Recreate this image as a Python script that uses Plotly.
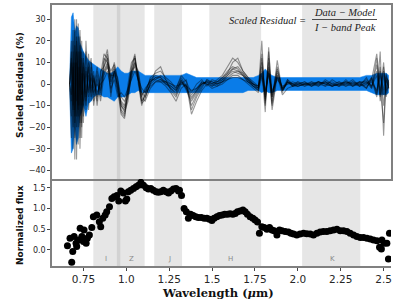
import plotly.graph_objects as go
from plotly.subplots import make_subplots

# ---------------- data ----------------
res_wl = [0.670, 0.680, 0.690, 0.700, 0.710, 0.720, 0.730, 0.740, 0.750, 0.765,
          0.780, 0.795, 0.810, 0.830, 0.850, 0.870, 0.890, 0.910, 0.930, 0.950,
          0.970, 0.990, 1.010, 1.030, 1.050, 1.070, 1.090, 1.110, 1.140, 1.170,
          1.200, 1.230, 1.260, 1.290, 1.320, 1.350, 1.380, 1.410, 1.440, 1.470,
          1.500, 1.530, 1.560, 1.590, 1.620, 1.650, 1.680, 1.710, 1.740, 1.770,
          1.790, 1.810, 1.830, 1.850, 1.880, 1.910, 1.940, 1.970, 2.000, 2.040,
          2.080, 2.120, 2.160, 2.200, 2.240, 2.280, 2.320, 2.360, 2.400, 2.430,
          2.460, 2.480, 2.500, 2.515, 2.530]

blue_upper = [2, 31, 33, 24, 27, 26, 19, 17, 15, 13,
              11, 10, 9, 8, 7, 6, 5, 5, 6, 8,
              6, 5, 5, 6, 6, 6, 5, 4, 4, 4,
              4, 4, 4, 4, 4, 5, 4, 3, 3, 3,
              3, 3, 3, 3, 3, 3, 3, 3, 3, 4,
              5, 7, 5, 4, 3, 3, 3, 3, 3, 3,
              3, 3, 3, 3, 3, 3, 3, 3, 4, 4,
              5, 5, 5, 5, 4]
blue_lower = [-2, -32, -30, -20, -28, -25, -15, -13, -10, -15,
              -9, -8, -6, -5, -5, -6, -6, -7, -8, -6,
              -6, -6, -5, -4, -4, -3, -4, -4, -4, -4,
              -4, -4, -4, -4, -4, -4, -4, -4, -4, -4,
              -4, -4, -4, -4, -4, -4, -4, -3, -3, -3,
              -4, -3, -4, -4, -3, -3, -3, -3, -3, -3,
              -3, -3, -3, -3, -3, -3, -3, -3, -3, -4,
              -5, -5, -5, -5, -4]

res_a = [0, 10, -30, 25, -20, 28, -25, 12, -10, 15,
         -12, 8, -8, 4, -6, 10, 16, 2, 8, -2,
         -14, -16, -4, 8, 14, 0, -10, -4, 2, 4,
         3, 1, -2, -4, 2, -3, -8, -4, 0, 1,
         0, 1, 3, 6, 8, 7, 4, 2, 0, -2,
         20, -10, 15, -6, 8, -3, 1, -1, 0, 1,
         -1, 1, 0, 1, -1, 0, 2, -1, 3, -2,
         12, -8, 4, -3, -1]
res_b = [0, -15, 20, -35, 15, -28, 22, -18, 8, -12,
         14, -6, 6, -10, 4, 14, 12, -6, 6, 3,
         -12, -14, 0, 10, 12, 2, -8, -6, 0, 6,
         8, 2, -3, -6, 0, 2, -12, -6, -2, 2,
         1, 0, 2, 5, 10, 12, 6, 3, 0, -1,
         6, -13, 17, -8, 11, -4, 2, 0, -1, 0,
         1, 0, -1, 2, 0, -1, 1, 0, -2, 2,
         -6, 15, -24, 4, 0]
res_c = [0, 5, 25, -18, 30, -15, 8, -20, 12, -8,
         6, 12, -5, 6, -4, 8, 14, 0, 6, 0,
         -10, -12, -6, 4, 10, 4, -6, -2, 1, 3,
         2, 0, -1, -3, 1, -2, -6, -3, 1, 0,
         -1, 0, 1, 4, 6, 5, 4, 1, -1, -3,
         14, -9, 10, -5, 6, -2, 0, 1, 0, -1,
         0, 1, -1, 0, 1, -1, 0, 1, 0, 3,
         -4, 8, -10, 2, -2]
res_d = [0, -8, 15, -12, 10, -20, 15, -10, 5, -6,
         4, -4, 4, -6, 2, 6, 10, 4, 4, -4,
         -8, -10, -2, 6, 8, 2, -6, -8, -2, 1,
         1, -1, -4, -8, -2, 0, -14, -8, -3, 0,
         -2, -1, 0, 2, 4, 4, 2, 0, -2, -4,
         10, -6, 8, -12, 4, -5, -2, -1, -1, 0,
         -1, 0, 1, -1, 0, 1, -1, 0, 2, -1,
         6, -3, 6, -2, 2]
res_e = [0, 20, -10, 30, -35, 15, -10, 20, -15, 8,
         -6, 5, -10, 2, -8, 4, 8, 3, 10, 2,
         -6, -8, -4, 6, 10, 6, -4, -6, 0, 2,
         4, 2, 0, -2, 3, -1, -5, -2, 1, 0,
         0, 2, 4, 8, 12, 10, 6, 3, 1, -1,
         8, -4, 6, -10, 5, -2, 1, 0, 1, 0,
         0, -1, 1, 0, -1, 1, 0, -1, 1, -2,
         9, -5, 10, -6, 0]
res_f = [0, -25, 10, -15, 20, -10, 25, -5, 10, -10,
         8, -2, 2, -4, 0, 2, 6, -2, 2, -6,
         -4, -6, -2, 2, 6, 2, -2, -4, -1, 1,
         2, 1, 0, -1, 0, -1, -3, -2, 0, 1,
         1, 0, 1, 2, 3, 3, 2, 1, 0, -1,
         4, -3, 4, -3, 2, -1, 0, 0, 0, 0,
         0, 1, 0, -1, 0, 1, 0, 0, -1, 1,
         -3, 4, -5, 3, 1]
res_g = [0, 12, -20, 18, -8, 22, -30, 5, -18, 20,
         -4, 10, -2, 8, -2, 12, 10, 6, 9, 1,
         -10, -13, -8, 5, 12, 3, -8, -5, 3, 5,
         6, 3, 1, -2, 4, 1, -4, 0, 2, -1,
         2, 1, 3, 5, 7, 6, 5, 2, -1, -3,
         3, -5, 5, -4, 3, -2, 2, -1, 1, -1,
         1, -1, 2, 0, -1, 2, -1, 1, -2, 3,
         -5, 6, -3, 5, -2]
res_h = [0, -5, 8, -25, 22, -12, 18, -25, 15, -4,
         10, -8, 3, -8, 6, 8, 12, -4, 7, -2,
         -13, -15, -3, 7, 13, 1, -9, -7, 1, 3,
         3, 0, -2, -5, 1, -1, -10, -5, -1, 2,
         0, -1, 1, 3, 5, 6, 4, 1, -1, -2,
         5, -8, 7, -6, 4, -3, 1, -1, 0, 1,
         -1, 1, 0, -1, 1, 0, -1, 1, 1, -1,
         4, -6, 8, -4, 1]
res_i = [0, 15, -12, 10, -15, 8, -18, 15, -8, 6,
         -3, 3, -4, 0, -3, 5, 9, 1, 5, -1,
         -9, -11, -5, 3, 9, 5, -5, -3, 2, 2,
         1, 1, -1, -3, 2, -2, -7, -3, 0, 1,
         -1, 1, 2, 4, 7, 8, 5, 2, 0, -2,
         12, -7, 12, -9, 7, -3, 1, 0, -1, 0,
         0, 0, 1, -1, 0, 0, 1, -1, 0, 2,
         14, -2, -18, 2, -1]
residual_lines = [res_a, res_b, res_c, res_d, res_e, res_f, res_g, res_h, res_i]

flux_wl = [0.657, 0.672, 0.682, 0.688, 0.696, 0.707, 0.711, 0.721, 0.731, 0.741,
           0.750, 0.754, 0.766, 0.773, 0.785, 0.799, 0.808, 0.828, 0.843, 0.851,
           0.863, 0.877, 0.886, 0.902, 0.916, 0.929, 0.945, 0.956, 0.968, 0.983,
           0.995, 1.003, 1.012, 1.026, 1.042, 1.057, 1.071, 1.085, 1.100, 1.116,
           1.129, 1.143, 1.158, 1.174, 1.187, 1.201, 1.216, 1.232, 1.246, 1.260,
           1.275, 1.290, 1.304, 1.310, 1.322, 1.337, 1.350, 1.362, 1.375, 1.390,
           1.405, 1.420, 1.437, 1.454, 1.470, 1.485, 1.499, 1.512, 1.528, 1.543,
           1.559, 1.574, 1.590, 1.605, 1.621, 1.635, 1.648, 1.664, 1.680, 1.693,
           1.706, 1.722, 1.738, 1.751, 1.765, 1.776, 1.790, 1.804, 1.820, 1.835,
           1.849, 1.862, 1.878, 1.893, 1.907, 1.926, 1.945, 1.960, 1.975, 1.994,
           2.013, 2.033, 2.052, 2.072, 2.091, 2.111, 2.130, 2.149, 2.169, 2.188,
           2.208, 2.228, 2.247, 2.266, 2.286, 2.305, 2.325, 2.344, 2.364, 2.383,
           2.403, 2.422, 2.441, 2.461, 2.476, 2.487, 2.490, 2.503, 2.519, 2.528,
           2.534]
flux_val = [0.10, 0.28, -0.30, -0.04, 0.32, 0.16, 0.08, 0.24, 0.52, 0.32,
            0.20, 0.48, 0.16, 0.28, 0.36, 0.54, 0.80, 0.84, 0.68, 0.56,
            0.76, 0.84, 0.92, 1.04, 1.24, 1.28, 1.31, 1.18, 1.42, 1.37,
            1.18, 1.23, 1.40, 1.44, 1.48, 1.52, 1.56, 1.63, 1.56, 1.50,
            1.47, 1.48, 1.44, 1.40, 1.39, 1.40, 1.44, 1.40, 1.37, 1.42,
            1.47, 1.48, 1.42, 1.44, 1.31, 1.00, 0.92, 0.76, 0.86, 0.83,
            0.80, 0.78, 0.78, 0.76, 0.76, 0.74, 0.71, 0.76, 0.80, 0.83,
            0.84, 0.86, 0.86, 0.87, 0.86, 0.88, 0.92, 0.94, 0.96, 0.92,
            0.86, 0.80, 0.76, 0.72, 0.67, 0.40, 0.56, 0.54, 0.50, 0.54,
            0.48, 0.46, 0.36, 0.48, 0.46, 0.44, 0.43, 0.40, 0.38, 0.36,
            0.38, 0.40, 0.39, 0.38, 0.36, 0.40, 0.43, 0.44, 0.44, 0.46,
            0.48, 0.50, 0.46, 0.46, 0.44, 0.40, 0.36, 0.32, 0.30, 0.30,
            0.28, 0.26, 0.24, 0.22, 0.06, 0.02, 0.24, 0.16, 0.16, -0.22,
            0.40]

band_names = ["I", "Z", "J", "H", "K"]
band_start = [0.808, 0.945, 1.163, 1.484, 2.025]
band_end = [0.965, 1.107, 1.325, 1.786, 2.364]
band_label_x = [0.88, 1.03, 1.25, 1.61, 2.20]

x_tick_vals = [0.75, 1.0, 1.25, 1.5, 1.75, 2.0, 2.25, 2.5]
x_tick_text = ["0.75", "1.0", "1.25", "1.5", "1.75", "2.0", "2.25", "2.5"]
res_tick_vals = [-40, -30, -20, -10, 0, 10, 20, 30]
flux_tick_vals = [0.0, 0.5, 1.0, 1.5]

# ---------------- layout geometry (pixels) ----------------
W, H = 397, 303
ML, MR, MT, MB = 52, 6, 5, 37
PW, PH = W - ML - MR, H - MT - MB


def px_x(px):
    return (px - ML) / PW


def px_y(py):
    return 1 - (py - MT) / PH


split = px_y(179)

# ---------------- figure ----------------
fig = make_subplots(rows=2, cols=1, shared_xaxes=True, vertical_spacing=0,
                    row_heights=[1 - split, split])

BLUE = "#0a7ce8"
fig.add_trace(go.Scatter(x=res_wl, y=blue_upper, mode="lines",
                         line=dict(color=BLUE, width=0.5), showlegend=False,
                         hoverinfo="skip"), row=1, col=1)
fig.add_trace(go.Scatter(x=res_wl, y=blue_lower, mode="lines", fill="tonexty",
                         fillcolor=BLUE, line=dict(color=BLUE, width=0.5),
                         showlegend=False, hoverinfo="skip"), row=1, col=1)
for vals in residual_lines:
    fig.add_trace(go.Scatter(x=res_wl, y=vals, mode="lines",
                             line=dict(color="rgba(0,0,0,0.4)", width=1.1),
                             showlegend=False, hoverinfo="skip"), row=1, col=1)

fig.add_trace(go.Scatter(x=flux_wl, y=flux_val, mode="markers",
                         marker=dict(color="black", size=7),
                         showlegend=False, hoverinfo="skip"), row=2, col=1)

shapes = []
for s, e in zip(band_start, band_end):
    for xr, yr in (("x", "y domain"), ("x2", "y2 domain")):
        shapes.append(dict(type="rect", xref=xr, yref=yr, x0=s, x1=e, y0=0, y1=1,
                           fillcolor="rgba(128,128,128,0.2)", line=dict(width=0),
                           layer="below"))
# fraction bar
shapes.append(dict(type="line", xref="paper", yref="paper", x0=px_x(312),
                   x1=px_x(377), y0=px_y(19.5), y1=px_y(19.5),
                   line=dict(color="#222", width=0.8)))

C = dict(xanchor="center", yanchor="middle", showarrow=False,
         xref="paper", yref="paper")
annotations = []
for name, lx in zip(band_names, band_label_x):
    annotations.append(dict(C, x=lx, y=px_y(258.5), xref="x2", text=name,
                            font=dict(size=7, color="#8a8a8a",
                                      family="DejaVu Sans")))
serif_it = dict(family="Liberation Serif", size=10.5, color="#222")
annotations += [
    dict(C, x=px_x(308), y=px_y(20), xanchor="right",
         text="<i>Scaled Residual =</i>", font=serif_it),
    dict(C, x=px_x(344.5), y=px_y(12.5), text="<i>Data − Model</i>", font=serif_it),
    dict(C, x=px_x(344.5), y=px_y(27), text="<i>I − band Peak</i>", font=serif_it),
    dict(C, x=px_x(20), y=px_y(85), text="<b>Scaled Residuals (%)</b>",
         textangle=-90, font=dict(family="DejaVu Sans", size=9, color="#111")),
    dict(C, x=px_x(20), y=px_y(225), text="<b>Normalized flux</b>",
         textangle=-90, font=dict(family="DejaVu Sans", size=9, color="#111")),
    dict(C, x=px_x(218), y=px_y(293), text="<b>Wavelength (<i>μ</i>m)</b>",
         font=dict(family="DejaVu Serif", size=11.5, color="#111")),
]

AX = "#808080"
fig.update_layout(
    width=W, height=H,
    margin=dict(l=ML, r=MR, t=MT, b=MB, autoexpand=False),
    paper_bgcolor="white", plot_bgcolor="white",
    shapes=shapes, annotations=annotations,
    font=dict(family="DejaVu Sans", color="#262626"),
)
fig.update_xaxes(range=[0.567, 2.543], showgrid=False, zeroline=False,
                 tickvals=x_tick_vals, ticktext=x_tick_text, automargin=False)
fig.update_xaxes(row=1, col=1, showline=True, linecolor=AX, linewidth=1.5,
                 mirror=True, ticks="", showticklabels=False)
fig.update_xaxes(row=2, col=1, showline=True, linecolor=AX, linewidth=1.5,
                 mirror=False, ticks="outside", ticklen=3, tickcolor="#444",
                 tickfont=dict(size=10.5, family="DejaVu Sans", color="#262626"))
fig.update_yaxes(row=1, col=1, range=[-44, 36.6], showgrid=False, zeroline=False,
                 showline=True, linecolor=AX, linewidth=1.5, mirror=True,
                 tickvals=res_tick_vals, ticks="outside", ticklen=3,
                 tickcolor="#444", automargin=False,
                 tickfont=dict(size=8, family="DejaVu Sans", color="#262626"))
fig.update_yaxes(row=2, col=1, range=[-0.39, 1.71], showgrid=False, zeroline=False,
                 showline=True, linecolor=AX, linewidth=1.5, mirror=False,
                 tickvals=flux_tick_vals, tickformat=".1f", ticks="outside",
                 ticklen=3, tickcolor="#444", automargin=False,
                 tickfont=dict(size=8, family="DejaVu Sans", color="#262626"))

fig.write_html("out.html", config={"displayModeBar": False},
               post_script="document.body.style.margin='0';"
                           "document.body.style.overflow='hidden';")
